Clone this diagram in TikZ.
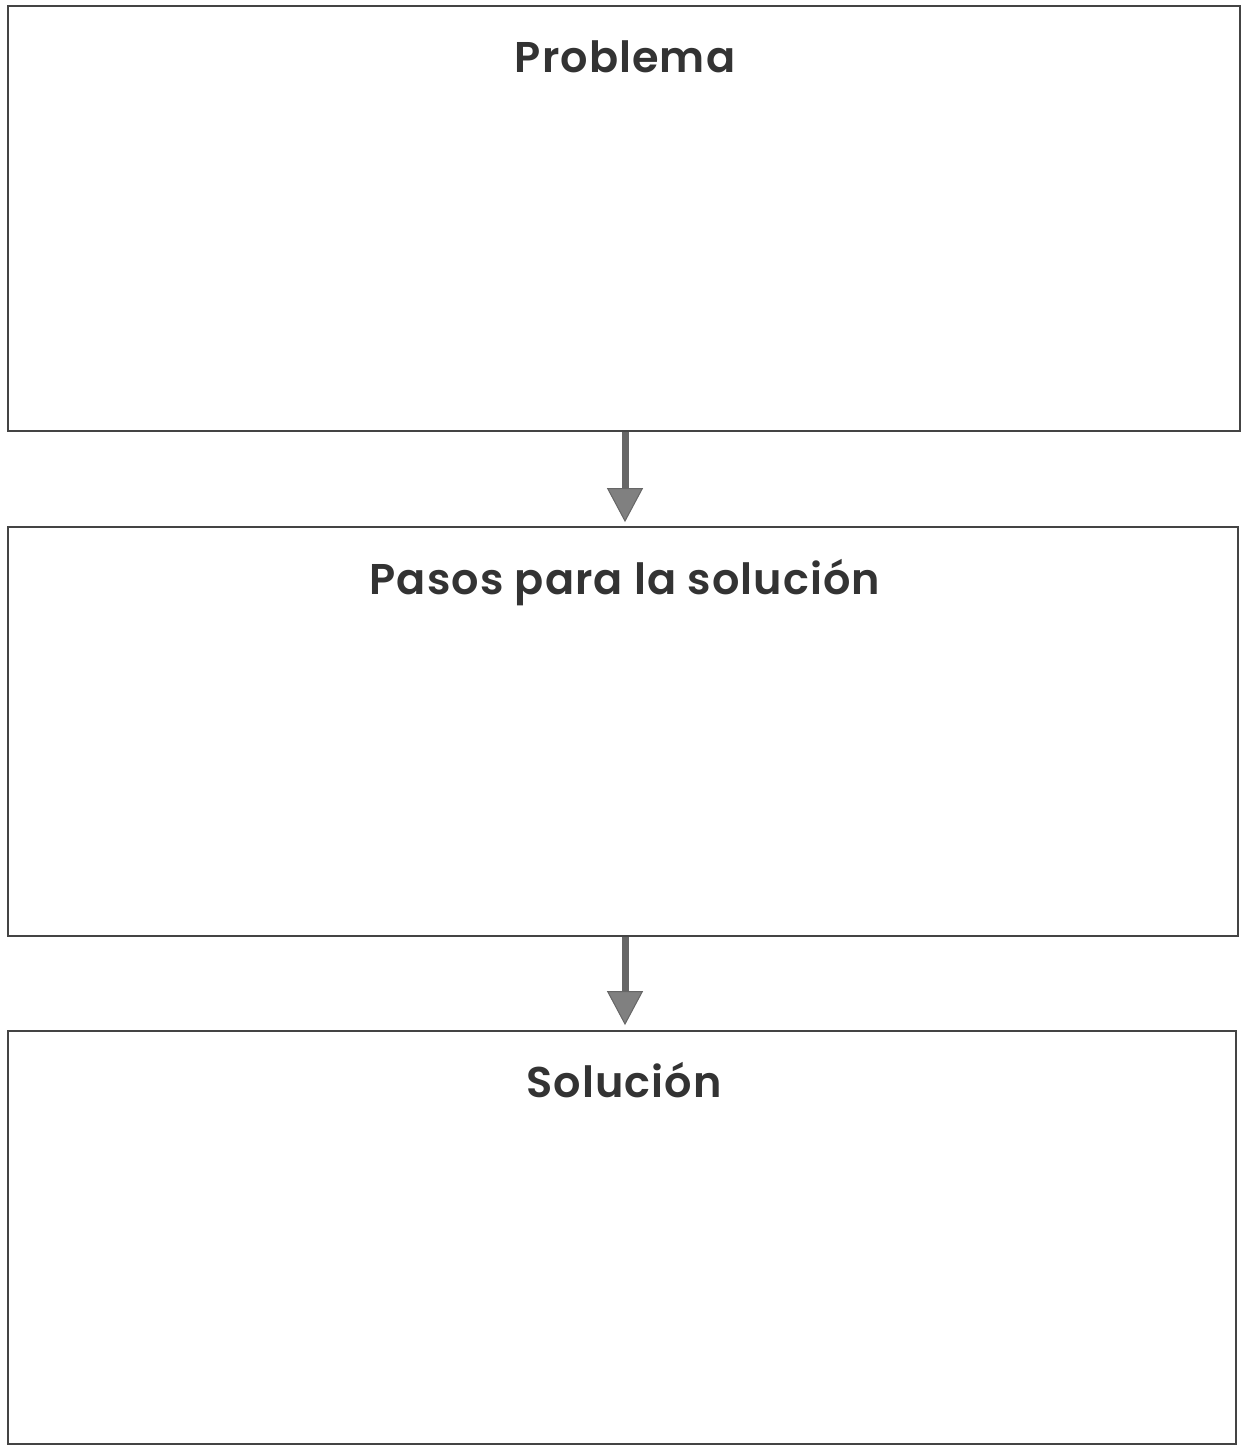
\documentclass[tikz,border=0pt]{standalone}
\usepackage{fontspec}
\setmainfont{Poppins}[BoldFont={Poppins SemiBold},LetterSpace=2.5]
\usetikzlibrary{arrows.meta}
\definecolor{edge}{HTML}{444444}
\definecolor{txt}{HTML}{333333}
\definecolor{arrfill}{HTML}{808080}
\begin{document}
\begin{tikzpicture}[x=1pt,y=-1pt,
  panel/.style={draw=edge,line width=1.8pt,fill=none,inner sep=0pt},
  title/.style={anchor=base,text=txt,font=\fontsize{43}{50}\selectfont\bfseries},
  flow/.style={draw=arrfill!80!black,line width=7pt,
    -{Triangle[width=36pt,length=34pt,fill=arrfill,line width=1pt]}}]
\useasboundingbox (0,0) rectangle (1248,1445);
\fill[white] (0,0) rectangle (1248,1445);
\node[panel,minimum width=1232pt,minimum height=425pt] (b1) at (624,218.5) {};
\node[panel,minimum width=1230pt,minimum height=409pt] (b2) at (623,731.5) {};
\node[panel,minimum width=1228pt,minimum height=413pt] (b3) at (622,1237.5) {};
\node[title] (t1) at (625,72) {Problema};
\node[title] (t2) at (625,594) {Pasos para la solución};
\node[title] (t3) at (624,1097) {Solución};
\draw[flow,shorten >=4pt] (b1.south -| 625,0) -- (b2.north -| 625,0);
\draw[flow,shorten >=5pt] (b2.south -| 625,0) -- (b3.north -| 625,0);
\end{tikzpicture}
\end{document}
